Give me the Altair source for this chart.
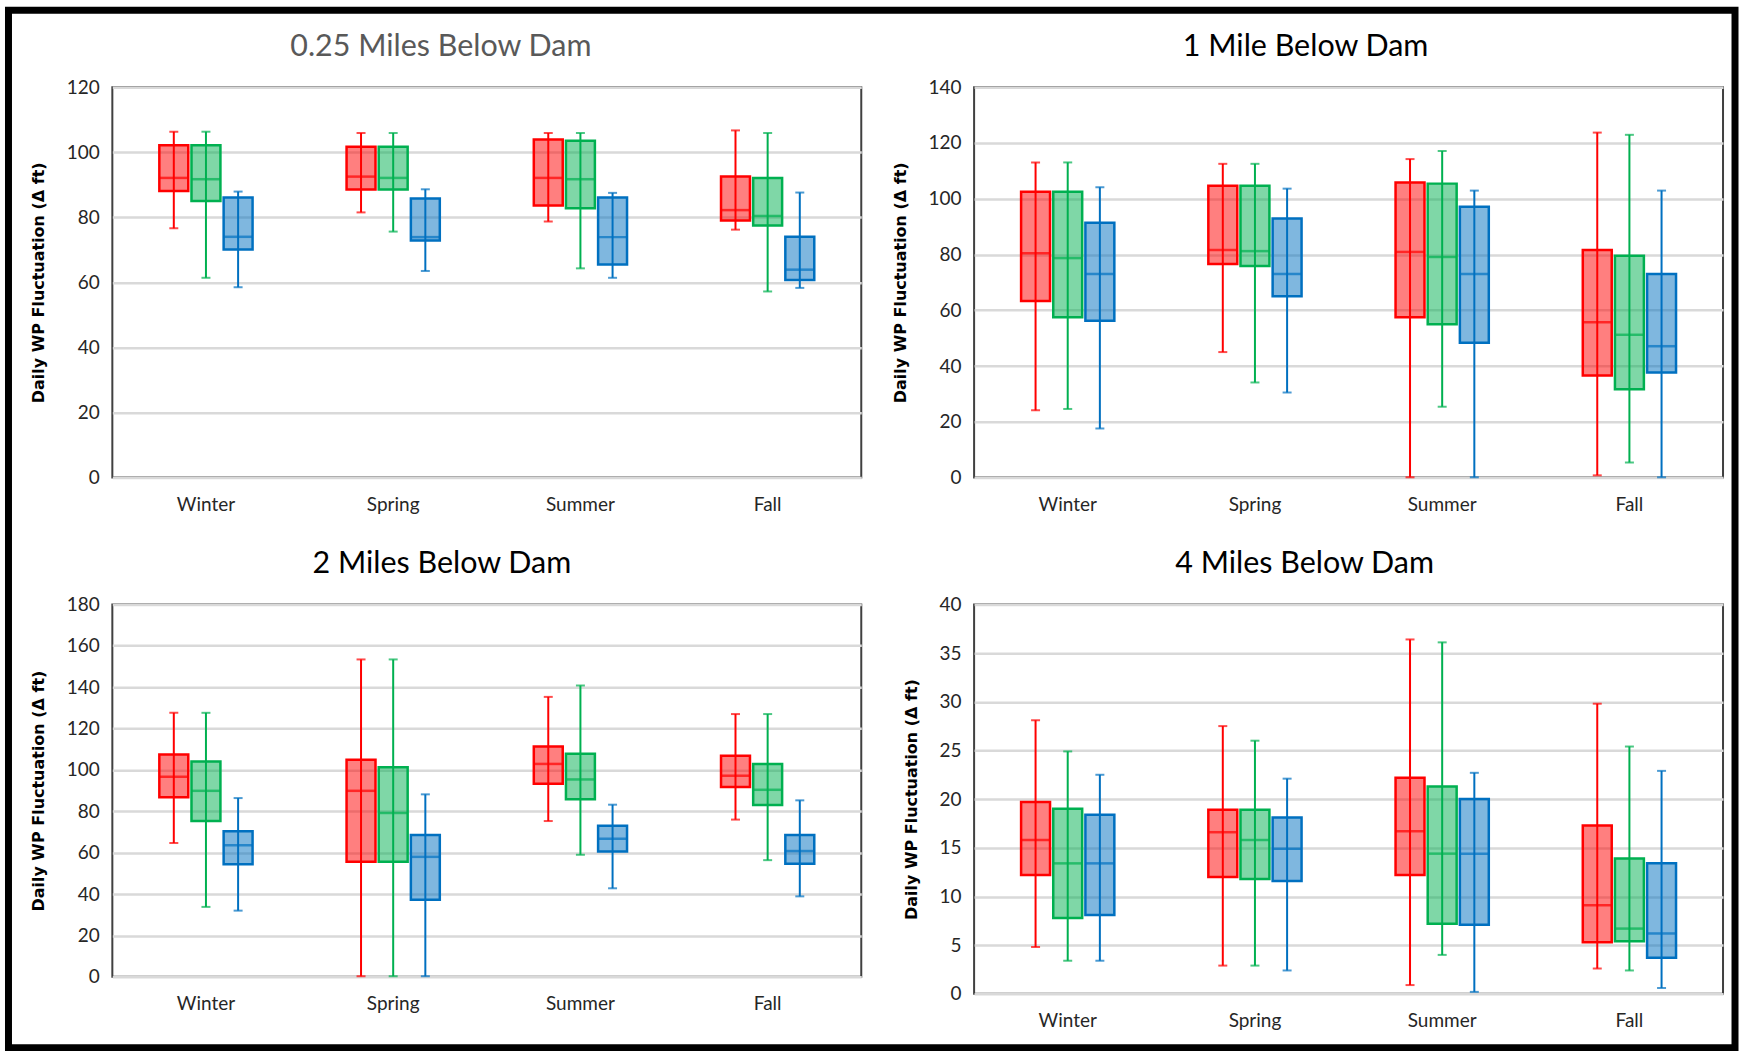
import altair as alt
import pandas as pd

seasons = ["Winter", "Spring", "Summer", "Fall"]
series = ["Series 1", "Series 2", "Series 3"]
stroke_colors = ["#FF0000", "#00B050", "#0070C0"]

titles = ["0.25 Miles Below Dam", "1 Mile Below Dam", "2 Miles Below Dam", "4 Miles Below Dam"]
title_colors = ["#595959", "#000000", "#000000", "#000000"]
y_title = "Daily WP Fluctuation (\u0394 ft)"

# values ordered season-major: Winter(S1,S2,S3), Spring(...), Summer(...), Fall(...)
p1_min = [76.6, 61.4, 58.5, 81.5, 75.6, 63.5, 78.7, 64.3, 61.4, 76.2, 57.2, 58.3]
p1_q1 = [88.1, 85.0, 70.1, 88.5, 88.5, 72.9, 83.6, 82.8, 65.5, 79.0, 77.5, 60.7]
p1_med = [92.1, 91.7, 74.0, 92.5, 92.1, 73.9, 92.1, 91.7, 73.9, 82.2, 80.4, 63.9]
p1_q3 = [102.1, 102.1, 86.1, 101.7, 101.7, 85.8, 103.9, 103.5, 86.1, 92.5, 92.1, 74.0]
p1_max = [106.3, 106.3, 87.9, 105.9, 105.9, 88.6, 105.9, 105.9, 87.5, 106.7, 105.9, 87.6]

p2_min = [24.1, 24.6, 17.6, 45.0, 34.1, 30.5, 0.1, 25.4, 0.1, 0.8, 5.4, 0.1]
p2_q1 = [63.3, 57.5, 56.2, 76.6, 75.9, 65.0, 57.5, 55.0, 48.3, 36.6, 31.7, 37.7]
p2_med = [80.4, 78.7, 73.0, 81.6, 81.2, 73.0, 80.9, 79.1, 73.0, 55.7, 51.2, 47.1]
p2_q3 = [102.5, 102.5, 91.4, 104.6, 104.6, 92.9, 105.8, 105.4, 97.1, 81.6, 79.5, 73.0]
p2_max = [113.0, 113.0, 104.1, 112.5, 112.5, 103.6, 114.2, 117.1, 102.9, 123.7, 122.9, 102.9]

p3_min = [64.7, 33.8, 32.0, 0.3, 0.3, 0.3, 75.3, 59.0, 42.8, 76.0, 56.4, 38.9]
p3_q1 = [86.8, 75.3, 54.4, 55.6, 55.6, 37.3, 93.3, 85.8, 60.6, 91.8, 83.0, 54.7]
p3_med = [96.7, 89.9, 63.6, 89.9, 79.2, 58.0, 102.9, 95.4, 66.8, 97.2, 90.4, 60.8]
p3_q3 = [107.4, 104.1, 70.4, 104.9, 101.3, 68.5, 111.3, 107.8, 73.0, 106.9, 102.9, 68.5]
p3_max = [127.6, 127.6, 86.4, 153.4, 153.4, 88.2, 135.3, 140.8, 83.2, 127.0, 127.0, 85.3]

p4_min = [4.8, 3.4, 3.4, 2.9, 2.9, 2.4, 0.9, 4.0, 0.2, 2.6, 2.4, 0.6]
p4_q1 = [12.2, 7.8, 8.1, 12.0, 11.8, 11.6, 12.2, 7.2, 7.1, 5.3, 5.4, 3.7]
p4_med = [15.8, 13.4, 13.4, 16.6, 15.8, 14.9, 16.7, 14.4, 14.4, 9.1, 6.7, 6.2]
p4_q3 = [19.7, 19.0, 18.4, 18.9, 18.9, 18.1, 22.2, 21.3, 20.0, 17.3, 13.9, 13.4]
p4_max = [28.1, 24.9, 22.5, 27.5, 26.0, 22.1, 36.4, 36.1, 22.7, 29.8, 25.4, 22.9]

y_max = [120, 140, 180, 40]
y_step = [20, 20, 20, 5]


def make_panel(i, mins, q1s, meds, q3s, maxs, width, height, title_x, border=False):
    rows = []
    k = 0
    for s in seasons:
        for g in series:
            rows.append({"season": s, "series": g, "min": mins[k], "q1": q1s[k],
                         "median": meds[k], "q3": q3s[k], "max": maxs[k]})
            k += 1
    df = pd.DataFrame(rows)

    x = alt.X("season:N", sort=seasons, title=None,
              scale=alt.Scale(paddingInner=0.502, paddingOuter=0.251),
              axis=alt.Axis(labelAngle=0, labelFont="Lato", labelFontSize=19,
                            labelPadding=18, ticks=False, domain=False,
                            labelColor="#262626", grid=False))
    xo = alt.XOffset("series:N", sort=series,
                     scale=alt.Scale(paddingInner=0.1, paddingOuter=0))
    ysc = alt.Scale(domain=[0, y_max[i]], nice=False, zero=True)
    yax = alt.Axis(values=list(range(0, y_max[i] + 1, y_step[i])),
                   labelFont="Lato", labelFontSize=19, labelPadding=13,
                   labelColor="#262626", ticks=False, domain=False,
                   grid=True, gridColor="#D9D9D9", gridWidth=2.5,
                   title=y_title, titleFont="DejaVu Sans", titleFontSize=16,
                   titleFontWeight="bold", titleColor="#000000", titlePadding=20)

    col = alt.Color("series:N", scale=alt.Scale(domain=series, range=stroke_colors), legend=None)
    stk = alt.Stroke("series:N", scale=alt.Scale(domain=series, range=stroke_colors), legend=None)

    base = alt.Chart(df)
    whisk = base.mark_rule(strokeWidth=2).encode(
        x=x, xOffset=xo, y=alt.Y("min:Q", scale=ysc, axis=yax), y2="max:Q", color=col)
    cap_lo = base.mark_tick(size=9, thickness=2).encode(
        x=x, xOffset=xo, y=alt.Y("min:Q", scale=ysc, axis=yax), color=col)
    cap_hi = base.mark_tick(size=9, thickness=2).encode(
        x=x, xOffset=xo, y=alt.Y("max:Q", scale=ysc, axis=yax), color=col)
    box = base.mark_bar(fillOpacity=0.5, strokeWidth=2.5).encode(
        x=x, xOffset=xo, y=alt.Y("q1:Q", scale=ysc, axis=yax), y2="q3:Q",
        color=col, stroke=stk)
    med = base.mark_tick(size=29, thickness=2.5).encode(
        x=x, xOffset=xo, y=alt.Y("median:Q", scale=ysc, axis=yax), color=col)

    one = pd.DataFrame({"k": [0]})
    ttl = alt.Chart(one).mark_text(font="Lato", fontSize=30.5, color=title_colors[i],
                                   align="center", baseline="middle").encode(
        x=alt.value(title_x), y=alt.value(-40), text=alt.value(titles[i]))

    layers = [whisk, cap_lo, cap_hi, box, med, ttl]
    if border:
        frame = alt.Chart(one).mark_rect(filled=False, stroke="#000000", strokeWidth=7).encode(
            x=alt.value(-104), x2=alt.value(1625), y=alt.value(-77), y2=alt.value(962))
        layers = [frame] + layers
    return alt.layer(*layers).properties(width=width, height=height)


c1 = make_panel(0, p1_min, p1_q1, p1_med, p1_q3, p1_max, 750, 391, 329, border=True)
c2 = make_panel(1, p2_min, p2_q1, p2_med, p2_q3, p2_max, 750, 391, 332)
c3 = make_panel(2, p3_min, p3_q1, p3_med, p3_q3, p3_max, 750, 373, 330)
c4 = make_panel(3, p4_min, p4_q1, p4_med, p4_q3, p4_max, 750, 390, 331)

chart = alt.concat(c1, c2, c3, c4, columns=2, bounds="flush", align="all",
                   spacing={"row": 127, "column": 113}).properties(
    padding={"left": 3.5, "top": 4.5, "right": 0, "bottom": 0},
    background="#FFFFFF",
).configure_view(stroke="#404040", strokeWidth=2)

chart.save("out.html", embed_options={"renderer": "svg", "actions": False})
